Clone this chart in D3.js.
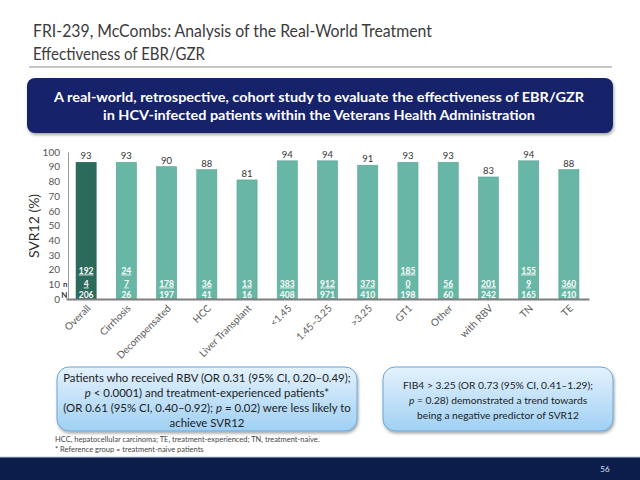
<!DOCTYPE html>
<html><head><meta charset="utf-8">
<script src="https://cdn.jsdelivr.net/npm/d3@7"></script>
<style>
body{margin:0;background:#fff;}
svg{display:block;font-family:Lato,'Open Sans',sans-serif;}
</style>
</head><body>
<svg id="c" width="640" height="480"></svg>
<script>
// ---- data ----
const categories = ["Overall","Cirrhosis","Decompensated","HCC","Liver Transplant","<1.45","1.45–3.25",">3.25","GT1","Other","with RBV","TN","TE"];
const svr12 = [93,93,90,88,81,94,94,91,93,93,83,94,88];
const nLines = [["192","4"],["24","7"],["178"],["36"],["13"],["383"],["912"],["373"],["185","0"],["56"],["201"],["155","9"],["360"]];
const totalN = ["206","26","197","41","16","408","971","410","198","60","242","165","410"];
const yTicks = [0,10,20,30,40,50,60,70,80,90,100];
const titleLines = ["FRI-239, McCombs: Analysis of the Real-World Treatment","Effectiveness of EBR/GZR"];
const bannerLines = ["A real-world, retrospective, cohort study to evaluate the effectiveness of EBR/GZR","in HCV-infected patients within the Veterans Health Administration"];
const leftBox = [
  [["Patients who received RBV (OR 0.31 (95% CI, 0.20–0.49);",false]],
  [["p",true],[" < 0.0001) and treatment-experienced patients*",false]],
  [["(OR 0.61 (95% CI, 0.40–0.92); ",false],["p",true],[" = 0.02) were less likely to",false]],
  [["achieve SVR12",false]]
];
const rightBox = [
  [["FIB4 > 3.25 (OR 0.73 (95% CI, 0.41–1.29);",false]],
  [["p",true],[" = 0.28) demonstrated a trend towards",false]],
  [["being a negative predictor of SVR12",false]]
];
const footnotes = ["HCC, hepatocellular carcinoma; TE, treatment-experienced; TN, treatment-naive.","* Reference group = treatment-naive patients"];
const pageNumber = "56";

const svg = d3.select("#c");
const defs = svg.append("defs");
const g1 = defs.append("linearGradient").attr("id","boxg").attr("x1",0).attr("y1",0).attr("x2",0).attr("y2",1);
g1.append("stop").attr("offset","0%").attr("stop-color","#e4f2fd");
g1.append("stop").attr("offset","100%").attr("stop-color","#9fd0f3");
const f = defs.append("filter").attr("id","sh").attr("x","-10%").attr("y","-10%").attr("width","130%").attr("height","140%");
f.append("feDropShadow").attr("dx",1).attr("dy",2).attr("stdDeviation",1.5).attr("flood-color","#000").attr("flood-opacity",0.35);

function fit(sel, w){ const L=sel.node().getComputedTextLength(); if(L>0){ sel.attr("textLength",w).attr("lengthAdjust","spacingAndGlyphs"); } }

// ---- title ----
[[titleLines[0],37,399],[titleLines[1],60,172]].forEach(([t,yy,w])=>{
  const s = svg.append("text").attr("x",33).attr("y",yy).attr("font-size",18).attr("fill","#3b3b3b").text(t);
  fit(s,w);
});
svg.append("line").attr("x1",29).attr("x2",612).attr("y1",67).attr("y2",67).attr("stroke","#b4b4b4").attr("stroke-width",1.5);

// ---- banner ----
svg.append("rect").attr("x",27).attr("y",78).attr("width",586).attr("height",55).attr("rx",8)
  .attr("fill","#13246a").attr("filter","url(#sh)");
[[bannerLines[0],102,530],[bannerLines[1],120,432]].forEach(([t,yy,w])=>{
  const s = svg.append("text").attr("x",319).attr("y",yy).attr("text-anchor","middle").attr("font-size",13.5)
    .attr("font-weight","bold").attr("fill","#fff").text(t);
  fit(s,w);
});

// ---- chart ----
const x = d3.scaleBand().domain(categories).range([66,589]).paddingInner(0.5).paddingOuter(0.25);
const y = d3.scaleLinear().domain([0,100]).range([299,152]);

const yAxis = svg.append("g").attr("transform","translate(68,0)")
  .call(d3.axisLeft(y).tickValues(yTicks).tickSize(0).tickPadding(8));
yAxis.select(".domain").attr("stroke","#9a9a9a").attr("stroke-width",1);
yAxis.selectAll("text").attr("font-size",10).attr("fill","#555").attr("font-family","Lato,'Open Sans',sans-serif");

svg.append("text").attr("transform","translate(39,226) rotate(-90)").attr("text-anchor","middle")
  .attr("font-size",14).attr("fill","#333").text("SVR12 (%)");

const data = categories.map((c,i)=>({c, v:svr12[i], n:nLines[i], N:totalN[i], i}));

svg.append("g").selectAll("rect").data(data).join("rect")
  .attr("x",d=>x(d.c)).attr("width",x.bandwidth())
  .attr("y",d=>y(d.v)).attr("height",d=>y(0)-y(d.v))
  .attr("fill",d=>d.i===0?"#2c6b5b":"#68b7a6")
  .attr("stroke",d=>d.i===0?"#245a4c":"#5aa394").attr("stroke-width",0.6);

svg.append("g").selectAll("text").data(data).join("text")
  .attr("x",d=>x(d.c)+x.bandwidth()/2).attr("y",d=>y(d.v)-3)
  .attr("text-anchor","middle").attr("font-size",9.5).attr("fill","#333").text(d=>d.v);

// n / N inside bars
const inG = svg.append("g").attr("font-size",8.5).attr("font-weight","bold").attr("fill","#fff").attr("text-anchor","middle");
data.forEach(d=>{
  const cx = x(d.c)+x.bandwidth()/2;
  const rows = d.n.length===2 ? [y(0)-25.5, y(0)-12.5] : [y(0)-12.5];
  d.n.forEach((t,k)=>{
    inG.append("text").attr("x",cx).attr("y",rows[k]).attr("text-decoration","underline").text(t);
  });
  inG.append("text").attr("x",cx).attr("y",y(0)-1.5).text(d.N);
});
svg.append("text").attr("x",67.5).attr("y",y(0)-12.5).attr("text-anchor","end").attr("font-size",8).attr("font-weight","bold").attr("fill","#333").text("n");
svg.append("text").attr("x",67.5).attr("y",y(0)-1.5).attr("text-anchor","end").attr("font-size",8).attr("font-weight","bold").attr("fill","#333").text("N");

const xAxis = svg.append("g").attr("transform","translate(0,299)")
  .call(d3.axisBottom(x).tickSize(0).tickSizeOuter(0).tickPadding(0));
xAxis.select(".domain").attr("stroke","#7f7f7f").attr("stroke-width",2);
xAxis.selectAll("text").attr("font-size",10).attr("fill","#5a5a5a").attr("font-family","Lato,'Open Sans',sans-serif")
  .attr("text-anchor","end").attr("dy",null)
  .attr("transform","translate(5,10) rotate(-45)");

// ---- boxes ----
function box(bx,by,bw,bh,lines,cx,baselines,target){
  svg.append("rect").attr("x",bx).attr("y",by).attr("width",bw).attr("height",bh).attr("rx",12)
    .attr("fill","url(#boxg)").attr("stroke","#6fa4d3").attr("stroke-width",1).attr("filter","url(#sh)");
  const texts = lines.map((segs,k)=>{
    const t = svg.append("text").attr("x",cx).attr("y",baselines[k]).attr("text-anchor","middle")
      .attr("font-size",12).attr("fill","#222");
    segs.forEach(([s,it])=>t.append("tspan").attr("font-style",it?"italic":null).text(s));
    return t;
  });
  const maxL = d3.max(texts,t=>t.node().getComputedTextLength());
  const fs = 12*target/maxL;
  texts.forEach(t=>t.attr("font-size",fs));
}
box(57,367,300,64,leftBox,207,[382,397,412,427],288);
box(383,367,230,64,rightBox,498,[389,404,419],190);

// footnotes
svg.append("text").attr("x",55).attr("y",442).attr("font-size",7.5).attr("fill","#444").text(footnotes[0]);
svg.append("text").attr("x",55).attr("y",452).attr("font-size",7.5).attr("fill","#444").text(footnotes[1]);

// footer
svg.append("rect").attr("x",0).attr("y",457).attr("width",640).attr("height",23).attr("fill","#0c1d4b");
svg.append("line").attr("x1",0).attr("x2",640).attr("y1",457).attr("y2",457).attr("stroke","#b7cde3").attr("stroke-width",1);
svg.append("text").attr("x",605).attr("y",472).attr("text-anchor","middle").attr("font-size",8).attr("fill","#dfe6f3").text(pageNumber);
</script>
</body></html>
